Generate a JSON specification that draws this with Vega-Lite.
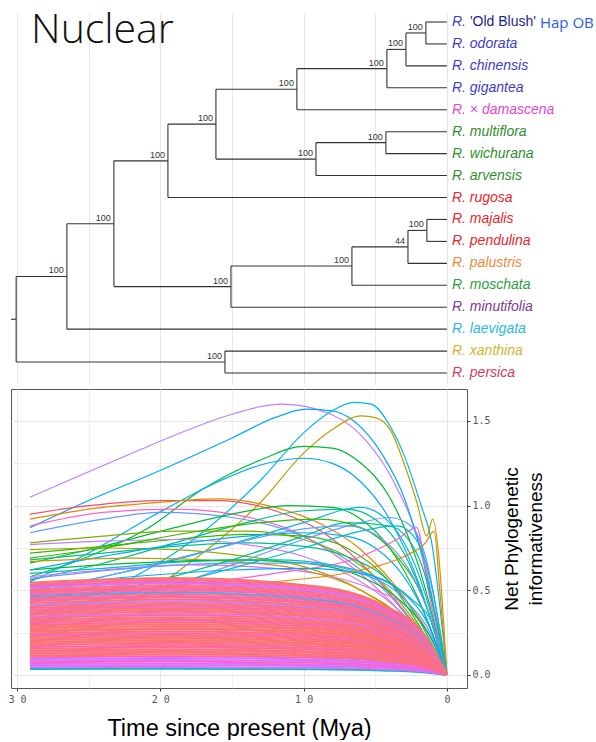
{
"$schema": "https://vega.github.io/schema/vega-lite/v6.json",
"background": "white",
"padding": {"left": 7, "top": 10, "right": 0, "bottom": 0},
"spacing": 4,
"resolve": {"scale": {"color": "independent", "x": "independent", "y": "independent"}},
"datasets": {
"segs": [
{"a":30.42,"b":30.06,"c":14.55,"d":14.55},{"a":30.06,"b":26.52,"c":12.6,"d":12.6},{"a":30.06,"b":15.49,"c":16.5,"d":16.5},
{"a":26.52,"b":23.24,"c":10.195,"d":10.195},{"a":26.52,"b":0,"c":15,"d":15},{"a":23.24,"b":19.47,"c":7.328,"d":7.328},
{"a":23.24,"b":15.07,"c":13.06,"d":13.06},{"a":19.47,"b":16.12,"c":5.656,"d":5.656},{"a":19.47,"b":0,"c":9,"d":9},
{"a":16.12,"b":10.47,"c":4.0625,"d":4.0625},{"a":16.12,"b":9.14,"c":7.25,"d":7.25},{"a":10.47,"b":4.19,"c":3.125,"d":3.125},
{"a":10.47,"b":0,"c":5,"d":5},{"a":4.19,"b":2.86,"c":2.25,"d":2.25},{"a":4.19,"b":0,"c":4,"d":4},
{"a":2.86,"b":1.47,"c":1.5,"d":1.5},{"a":2.86,"b":0,"c":3,"d":3},{"a":1.47,"b":0,"c":1,"d":1},{"a":1.47,"b":0,"c":2,"d":2},
{"a":9.14,"b":4.26,"c":6.5,"d":6.5},{"a":9.14,"b":0,"c":8,"d":8},{"a":4.26,"b":0,"c":6,"d":6},{"a":4.26,"b":0,"c":7,"d":7},
{"a":15.07,"b":6.63,"c":12.125,"d":12.125},{"a":15.07,"b":0,"c":14,"d":14},{"a":6.63,"b":2.72,"c":11.25,"d":11.25},
{"a":6.63,"b":0,"c":13,"d":13},{"a":2.72,"b":1.4,"c":10.5,"d":10.5},{"a":2.72,"b":0,"c":12,"d":12},
{"a":1.4,"b":0,"c":10,"d":10},{"a":1.4,"b":0,"c":11,"d":11},{"a":15.49,"b":0,"c":16,"d":16},{"a":15.49,"b":0,"c":17,"d":17},
{"a":30.06,"b":30.06,"c":12.6,"d":16.5},{"a":26.52,"b":26.52,"c":10.195,"d":15},{"a":23.24,"b":23.24,"c":7.328,"d":13.06},
{"a":19.47,"b":19.47,"c":5.656,"d":9},{"a":16.12,"b":16.12,"c":4.0625,"d":7.25},{"a":10.47,"b":10.47,"c":3.125,"d":5},
{"a":4.19,"b":4.19,"c":2.25,"d":4},{"a":2.86,"b":2.86,"c":1.5,"d":3},{"a":1.47,"b":1.47,"c":1,"d":2},
{"a":9.14,"b":9.14,"c":6.5,"d":8},{"a":4.26,"b":4.26,"c":6,"d":7},{"a":15.07,"b":15.07,"c":12.125,"d":14},
{"a":6.63,"b":6.63,"c":11.25,"d":13},{"a":2.72,"b":2.72,"c":10.5,"d":12},{"a":1.4,"b":1.4,"c":10,"d":11},
{"a":15.49,"b":15.49,"c":16,"d":17}
],
"nodes": [
{"t":1.47,"y":1.5,"bs":"100"},{"t":2.86,"y":2.25,"bs":"100"},{"t":4.19,"y":3.125,"bs":"100"},{"t":10.47,"y":4.0625,"bs":"100"},
{"t":16.12,"y":5.656,"bs":"100"},{"t":19.47,"y":7.328,"bs":"100"},{"t":9.14,"y":7.25,"bs":"100"},{"t":4.26,"y":6.5,"bs":"100"},
{"t":23.24,"y":10.195,"bs":"100"},{"t":26.52,"y":12.6,"bs":"100"},{"t":15.07,"y":13.06,"bs":"100"},{"t":6.63,"y":12.125,"bs":"100"},
{"t":2.72,"y":11.25,"bs":"44"},{"t":1.4,"y":10.5,"bs":"100"},{"t":15.49,"y":16.5,"bs":"100"}
],
"tips": [
{"n":1,"t":0,"lab":"R.","cl":"blue"},{"n":2,"t":0,"lab":"R. odorata","cl":"blue"},{"n":3,"t":0,"lab":"R. chinensis","cl":"blue"},
{"n":4,"t":0,"lab":"R. gigantea","cl":"blue"},{"n":5,"t":0,"lab":"R. × damascena","cl":"mag"},{"n":6,"t":0,"lab":"R. multiflora","cl":"grn"},
{"n":7,"t":0,"lab":"R. wichurana","cl":"grn"},{"n":8,"t":0,"lab":"R. arvensis","cl":"grn"},{"n":9,"t":0,"lab":"R. rugosa","cl":"red"},
{"n":10,"t":0,"lab":"R. majalis","cl":"red"},{"n":11,"t":0,"lab":"R. pendulina","cl":"red"},{"n":12,"t":0,"lab":"R. palustris","cl":"org"},
{"n":13,"t":0,"lab":"R. moschata","cl":"grn2"},{"n":14,"t":0,"lab":"R. minutifolia","cl":"pur"},{"n":15,"t":0,"lab":"R. laevigata","cl":"cyan"},
{"n":16,"t":0,"lab":"R. xanthina","cl":"gold"},{"n":17,"t":0,"lab":"R. persica","cl":"crim"}
],
"ob": [{"n":1,"t":0,"cv":"'Old Blush'","hap":"Hap OB"}],
"heading": [{"txt":"Nuclear"}],
"upper": [
{"i":1,"k":"e","t":29.1,"v":1.05},{"i":1,"k":"e","t":25,"v":1.2},{"i":1,"k":"e","t":21.7,"v":1.32},{"i":1,"k":"e","t":18,"v":1.45},{"i":1,"k":"e","t":15,"v":1.54},{"i":1,"k":"e","t":11.5,"v":1.6},{"i":1,"k":"e","t":8.1,"v":1.54},{"i":1,"k":"e","t":5.6,"v":1.38},{"i":1,"k":"e","t":3.7,"v":1.14},{"i":1,"k":"e","t":1.6,"v":0.68},{"i":1,"k":"e","t":0,"v":0},
{"i":2,"k":"g","t":29.1,"v":0.87},{"i":2,"k":"g","t":25,"v":1.03},{"i":2,"k":"g","t":20.5,"v":1.19},{"i":2,"k":"g","t":15,"v":1.4},{"i":2,"k":"g","t":12,"v":1.52},{"i":2,"k":"g","t":9.8,"v":1.57},{"i":2,"k":"g","t":8,"v":1.56},{"i":2,"k":"g","t":6.5,"v":1.5},{"i":2,"k":"g","t":4.5,"v":1.3},{"i":2,"k":"g","t":3,"v":1.05},{"i":2,"k":"g","t":1.5,"v":0.62},{"i":2,"k":"g","t":0,"v":0},
{"i":3,"k":"h","t":29.1,"v":0.3},{"i":3,"k":"h","t":25,"v":0.42},{"i":3,"k":"h","t":22,"v":0.57},{"i":3,"k":"h","t":19,"v":0.72},{"i":3,"k":"h","t":16.5,"v":0.88},{"i":3,"k":"h","t":13,"v":1.15},{"i":3,"k":"h","t":10,"v":1.43},{"i":3,"k":"h","t":8,"v":1.56},{"i":3,"k":"h","t":6.5,"v":1.61},{"i":3,"k":"h","t":5.3,"v":1.6},{"i":3,"k":"h","t":3.9,"v":1.46},{"i":3,"k":"h","t":3,"v":1.3},{"i":3,"k":"h","t":1.8,"v":1.0},{"i":3,"k":"h","t":1.1,"v":0.8},{"i":3,"k":"h","t":0,"v":0},
{"i":4,"k":"o","t":29.1,"v":0.22},{"i":4,"k":"o","t":25,"v":0.32},{"i":4,"k":"o","t":21,"v":0.48},{"i":4,"k":"o","t":18,"v":0.66},{"i":4,"k":"o","t":16,"v":0.79},{"i":4,"k":"o","t":13,"v":1.02},{"i":4,"k":"o","t":10,"v":1.31},{"i":4,"k":"o","t":8,"v":1.45},{"i":4,"k":"o","t":6,"v":1.53},{"i":4,"k":"o","t":5,"v":1.52},{"i":4,"k":"o","t":3.9,"v":1.44},{"i":4,"k":"o","t":3,"v":1.25},{"i":4,"k":"o","t":2.1,"v":1.02},{"i":4,"k":"o","t":1.4,"v":0.82},{"i":4,"k":"o","t":1.0,"v":0.92},{"i":4,"k":"o","t":0,"v":0},
{"i":5,"k":"k","t":29.1,"v":0.58},{"i":5,"k":"k","t":25,"v":0.7},{"i":5,"k":"k","t":21,"v":0.86},{"i":5,"k":"k","t":17,"v":1.1},{"i":5,"k":"k","t":13,"v":1.27},{"i":5,"k":"k","t":10,"v":1.35},{"i":5,"k":"k","t":8,"v":1.34},{"i":5,"k":"k","t":6,"v":1.25},{"i":5,"k":"k","t":4,"v":1.05},{"i":5,"k":"k","t":2,"v":0.65},{"i":5,"k":"k","t":0,"v":0},
{"i":6,"k":"g","t":29.1,"v":0.55},{"i":6,"k":"g","t":25,"v":0.72},{"i":6,"k":"g","t":20.5,"v":0.94},{"i":6,"k":"g","t":16,"v":1.14},{"i":6,"k":"g","t":13,"v":1.24},{"i":6,"k":"g","t":10,"v":1.28},{"i":6,"k":"g","t":8,"v":1.25},{"i":6,"k":"g","t":6,"v":1.14},{"i":6,"k":"g","t":4,"v":0.92},{"i":6,"k":"g","t":2,"v":0.55},{"i":6,"k":"g","t":0,"v":0},
{"i":7,"k":"r","t":29.1,"v":0.95},{"i":7,"k":"r","t":25,"v":1.0},{"i":7,"k":"r","t":20,"v":1.03},{"i":7,"k":"r","t":16,"v":1.03},{"i":7,"k":"r","t":12,"v":0.97},{"i":7,"k":"r","t":9,"v":0.86},{"i":7,"k":"r","t":6,"v":0.66},{"i":7,"k":"r","t":3,"v":0.38},{"i":7,"k":"r","t":1,"v":0.15},{"i":7,"k":"r","t":0,"v":0},
{"i":8,"k":"p","t":29.1,"v":0.92},{"i":8,"k":"p","t":25,"v":0.98},{"i":8,"k":"p","t":20,"v":1.02},{"i":8,"k":"p","t":16,"v":1.04},{"i":8,"k":"p","t":12,"v":0.99},{"i":8,"k":"p","t":9,"v":0.9},{"i":8,"k":"p","t":6,"v":0.74},{"i":8,"k":"p","t":3,"v":0.46},{"i":8,"k":"p","t":1,"v":0.2},{"i":8,"k":"p","t":0,"v":0},
{"i":9,"k":"f","t":29.1,"v":0.84},{"i":9,"k":"f","t":24,"v":0.92},{"i":9,"k":"f","t":20,"v":0.96},{"i":9,"k":"f","t":15,"v":0.93},{"i":9,"k":"f","t":11,"v":0.85},{"i":9,"k":"f","t":7,"v":0.68},{"i":9,"k":"f","t":4,"v":0.47},{"i":9,"k":"f","t":1.5,"v":0.2},{"i":9,"k":"f","t":0,"v":0},
{"i":10,"k":"c","t":29.1,"v":0.88},{"i":10,"k":"c","t":24,"v":0.96},{"i":10,"k":"c","t":19,"v":0.98},{"i":10,"k":"c","t":15,"v":0.95},{"i":10,"k":"c","t":11,"v":0.86},{"i":10,"k":"c","t":8,"v":0.72},{"i":10,"k":"c","t":5,"v":0.52},{"i":10,"k":"c","t":2,"v":0.25},{"i":10,"k":"c","t":0,"v":0},
{"i":11,"k":"k","t":29.1,"v":0.66},{"i":11,"k":"k","t":24,"v":0.76},{"i":11,"k":"k","t":19,"v":0.87},{"i":11,"k":"k","t":15,"v":0.95},{"i":11,"k":"k","t":11,"v":1.0},{"i":11,"k":"k","t":8,"v":0.99},{"i":11,"k":"k","t":6,"v":0.92},{"i":11,"k":"k","t":4,"v":0.75},{"i":11,"k":"k","t":2,"v":0.45},{"i":11,"k":"k","t":0,"v":0},
{"i":12,"k":"j","t":29.1,"v":0.56},{"i":12,"k":"j","t":24,"v":0.66},{"i":12,"k":"j","t":19,"v":0.78},{"i":12,"k":"j","t":14,"v":0.9},{"i":12,"k":"j","t":10,"v":0.97},{"i":12,"k":"j","t":7,"v":0.98},{"i":12,"k":"j","t":5,"v":0.92},{"i":12,"k":"j","t":3,"v":0.72},{"i":12,"k":"j","t":1.5,"v":0.42},{"i":12,"k":"j","t":0,"v":0},
{"i":13,"k":"h","t":29.1,"v":0.5},{"i":13,"k":"h","t":24,"v":0.58},{"i":13,"k":"h","t":19,"v":0.68},{"i":13,"k":"h","t":14,"v":0.8},{"i":13,"k":"h","t":10,"v":0.9},{"i":13,"k":"h","t":6,"v":0.99},{"i":13,"k":"h","t":4,"v":0.9},{"i":13,"k":"h","t":2,"v":0.6},{"i":13,"k":"h","t":0,"v":0},
{"i":14,"k":"m","t":29.1,"v":0.78},{"i":14,"k":"m","t":24,"v":0.82},{"i":14,"k":"m","t":19,"v":0.85},{"i":14,"k":"m","t":14,"v":0.85},{"i":14,"k":"m","t":10,"v":0.8},{"i":14,"k":"m","t":7,"v":0.7},{"i":14,"k":"m","t":4,"v":0.5},{"i":14,"k":"m","t":1.5,"v":0.22},{"i":14,"k":"m","t":0,"v":0},
{"i":15,"k":"l","t":29.1,"v":0.72},{"i":15,"k":"l","t":24,"v":0.76},{"i":15,"k":"l","t":19,"v":0.8},{"i":15,"k":"l","t":14,"v":0.83},{"i":15,"k":"l","t":10,"v":0.82},{"i":15,"k":"l","t":7,"v":0.75},{"i":15,"k":"l","t":4,"v":0.55},{"i":15,"k":"l","t":2,"v":0.3},{"i":15,"k":"l","t":0,"v":0},
{"i":16,"k":"n","t":29.1,"v":0.74},{"i":16,"k":"n","t":24,"v":0.75},{"i":16,"k":"n","t":19,"v":0.74},{"i":16,"k":"n","t":14,"v":0.7},{"i":16,"k":"n","t":10,"v":0.64},{"i":16,"k":"n","t":6,"v":0.5},{"i":16,"k":"n","t":3,"v":0.32},{"i":16,"k":"n","t":1,"v":0.12},{"i":16,"k":"n","t":0,"v":0},
{"i":17,"k":"j","t":29.1,"v":0.68},{"i":17,"k":"j","t":24,"v":0.72},{"i":17,"k":"j","t":19,"v":0.76},{"i":17,"k":"j","t":14,"v":0.78},{"i":17,"k":"j","t":10,"v":0.76},{"i":17,"k":"j","t":7,"v":0.7},{"i":17,"k":"j","t":4,"v":0.55},{"i":17,"k":"j","t":2,"v":0.33},{"i":17,"k":"j","t":0,"v":0},
{"i":18,"k":"e","t":29.1,"v":0.77},{"i":18,"k":"e","t":24,"v":0.79},{"i":18,"k":"e","t":19,"v":0.8},{"i":18,"k":"e","t":14,"v":0.77},{"i":18,"k":"e","t":10,"v":0.7},{"i":18,"k":"e","t":6,"v":0.55},{"i":18,"k":"e","t":3,"v":0.35},{"i":18,"k":"e","t":1,"v":0.13},{"i":18,"k":"e","t":0,"v":0},
{"i":19,"k":"g","t":29.1,"v":0.62},{"i":19,"k":"g","t":24,"v":0.7},{"i":19,"k":"g","t":19,"v":0.77},{"i":19,"k":"g","t":14,"v":0.82},{"i":19,"k":"g","t":10,"v":0.84},{"i":19,"k":"g","t":7,"v":0.82},{"i":19,"k":"g","t":5,"v":0.75},{"i":19,"k":"g","t":3,"v":0.58},{"i":19,"k":"g","t":1.5,"v":0.35},{"i":19,"k":"g","t":0,"v":0},
{"i":20,"k":"c","t":29.1,"v":0.45},{"i":20,"k":"c","t":20,"v":0.52},{"i":20,"k":"c","t":12,"v":0.6},{"i":20,"k":"c","t":6,"v":0.7},{"i":20,"k":"c","t":3.5,"v":0.8},{"i":20,"k":"c","t":2.1,"v":0.87},{"i":20,"k":"c","t":1.3,"v":0.5},{"i":20,"k":"c","t":0,"v":0},
{"i":21,"k":"i","t":29.1,"v":0.6},{"i":21,"k":"i","t":24,"v":0.63},{"i":21,"k":"i","t":18,"v":0.67},{"i":21,"k":"i","t":12,"v":0.68},{"i":21,"k":"i","t":8,"v":0.65},{"i":21,"k":"i","t":5,"v":0.58},{"i":21,"k":"i","t":2.5,"v":0.45},{"i":21,"k":"i","t":1,"v":0.3},{"i":21,"k":"i","t":0,"v":0},
{"i":22,"k":"f","t":29.1,"v":0.3},{"i":22,"k":"f","t":22,"v":0.45},{"i":22,"k":"f","t":15,"v":0.65},{"i":22,"k":"f","t":10,"v":0.8},{"i":22,"k":"f","t":6,"v":0.9},{"i":22,"k":"f","t":4,"v":0.93},{"i":22,"k":"f","t":2.5,"v":0.88},{"i":22,"k":"f","t":1.5,"v":0.7},{"i":22,"k":"f","t":0,"v":0},
{"i":23,"k":"d","t":29.1,"v":0.58},{"i":23,"k":"d","t":24,"v":0.62},{"i":23,"k":"d","t":18,"v":0.65},{"i":23,"k":"d","t":12,"v":0.63},{"i":23,"k":"d","t":8,"v":0.58},{"i":23,"k":"d","t":5,"v":0.5},{"i":23,"k":"d","t":2.5,"v":0.38},{"i":23,"k":"d","t":1,"v":0.2},{"i":23,"k":"d","t":0,"v":0},
{"i":24,"k":"o","t":29.1,"v":0.67},{"i":24,"k":"o","t":22,"v":0.69},{"i":24,"k":"o","t":15,"v":0.67},{"i":24,"k":"o","t":10,"v":0.62},{"i":24,"k":"o","t":6,"v":0.5},{"i":24,"k":"o","t":3,"v":0.33},{"i":24,"k":"o","t":1,"v":0.13},{"i":24,"k":"o","t":0,"v":0},
{"i":25,"k":"k","t":29.1,"v":0.62},{"i":25,"k":"k","t":22,"v":0.66},{"i":25,"k":"k","t":15,"v":0.68},{"i":25,"k":"k","t":10,"v":0.66},{"i":25,"k":"k","t":6,"v":0.58},{"i":25,"k":"k","t":3,"v":0.42},{"i":25,"k":"k","t":1,"v":0.2},{"i":25,"k":"k","t":0,"v":0},
{"i":26,"k":"f","t":29.1,"v":0.57},{"i":26,"k":"f","t":22,"v":0.63},{"i":26,"k":"f","t":15,"v":0.66},{"i":26,"k":"f","t":10,"v":0.66},{"i":26,"k":"f","t":6,"v":0.6},{"i":26,"k":"f","t":3,"v":0.45},{"i":26,"k":"f","t":1,"v":0.22},{"i":26,"k":"f","t":0,"v":0},
{"i":27,"k":"g","t":29.1,"v":0.52},{"i":27,"k":"g","t":22,"v":0.58},{"i":27,"k":"g","t":15,"v":0.62},{"i":27,"k":"g","t":10,"v":0.63},{"i":27,"k":"g","t":6,"v":0.6},{"i":27,"k":"g","t":3,"v":0.48},{"i":27,"k":"g","t":1.2,"v":0.28},{"i":27,"k":"g","t":0,"v":0},
{"i":28,"k":"p","t":29.1,"v":0.4},{"i":28,"k":"p","t":20,"v":0.48},{"i":28,"k":"p","t":12,"v":0.55},{"i":28,"k":"p","t":6,"v":0.62},{"i":28,"k":"p","t":3,"v":0.7},{"i":28,"k":"p","t":1.5,"v":0.78},{"i":28,"k":"p","t":0.9,"v":0.85},{"i":28,"k":"p","t":0.5,"v":0.5},{"i":28,"k":"p","t":0,"v":0},
{"i":29,"k":"i","t":29.1,"v":0.35},{"i":29,"k":"i","t":22,"v":0.48},{"i":29,"k":"i","t":15,"v":0.63},{"i":29,"k":"i","t":10,"v":0.75},{"i":29,"k":"i","t":6,"v":0.85},{"i":29,"k":"i","t":3.5,"v":0.88},{"i":29,"k":"i","t":2,"v":0.78},{"i":29,"k":"i","t":1,"v":0.5},{"i":29,"k":"i","t":0,"v":0},
{"i":30,"k":"j","t":29.1,"v":0.4},{"i":30,"k":"j","t":22,"v":0.52},{"i":30,"k":"j","t":15,"v":0.68},{"i":30,"k":"j","t":10,"v":0.82},{"i":30,"k":"j","t":7,"v":0.9},{"i":30,"k":"j","t":4,"v":0.88},{"i":30,"k":"j","t":2,"v":0.7},{"i":30,"k":"j","t":0,"v":0},
{"i":31,"k":"l","t":29.1,"v":0.69},{"i":31,"k":"l","t":24,"v":0.75},{"i":31,"k":"l","t":18,"v":0.84},{"i":31,"k":"l","t":13,"v":0.9},{"i":31,"k":"l","t":9,"v":0.92},{"i":31,"k":"l","t":6,"v":0.87},{"i":31,"k":"l","t":3.5,"v":0.7},{"i":31,"k":"l","t":1.5,"v":0.42},{"i":31,"k":"l","t":0,"v":0},
{"i":32,"k":"f","t":29.1,"v":0.48},{"i":32,"k":"f","t":22,"v":0.62},{"i":32,"k":"f","t":16,"v":0.75},{"i":32,"k":"f","t":11,"v":0.85},{"i":32,"k":"f","t":7,"v":0.88},{"i":32,"k":"f","t":4.5,"v":0.8},{"i":32,"k":"f","t":2.5,"v":0.6},{"i":32,"k":"f","t":1,"v":0.3},{"i":32,"k":"f","t":0,"v":0}
],
"bulk": [
{"i":101,"k":"i","t":29.1,"v":0.035},{"i":101,"k":"i","t":19,"v":0.037},{"i":101,"k":"i","t":9,"v":0.034},{"i":101,"k":"i","t":4.5,"v":0.027},{"i":101,"k":"i","t":1.5,"v":0.015},{"i":101,"k":"i","t":0,"v":0},
{"i":102,"k":"d","t":29.1,"v":0.045},{"i":102,"k":"d","t":19,"v":0.047},{"i":102,"k":"d","t":9,"v":0.043},{"i":102,"k":"d","t":4.5,"v":0.034},{"i":102,"k":"d","t":1.5,"v":0.019},{"i":102,"k":"d","t":0,"v":0},
{"i":103,"k":"e","t":29.1,"v":0.055},{"i":103,"k":"e","t":19,"v":0.058},{"i":103,"k":"e","t":9,"v":0.053},{"i":103,"k":"e","t":4.5,"v":0.042},{"i":103,"k":"e","t":1.5,"v":0.023},{"i":103,"k":"e","t":0,"v":0},
{"i":104,"k":"d","t":29.1,"v":0.065},{"i":104,"k":"d","t":19,"v":0.068},{"i":104,"k":"d","t":9,"v":0.062},{"i":104,"k":"d","t":4.5,"v":0.049},{"i":104,"k":"d","t":1.5,"v":0.027},{"i":104,"k":"d","t":0,"v":0},
{"i":105,"k":"c","t":29.1,"v":0.075},{"i":105,"k":"c","t":19,"v":0.079},{"i":105,"k":"c","t":9,"v":0.072},{"i":105,"k":"c","t":4.5,"v":0.057},{"i":105,"k":"c","t":1.5,"v":0.032},{"i":105,"k":"c","t":0,"v":0},
{"i":106,"k":"d","t":29.1,"v":0.085},{"i":106,"k":"d","t":19,"v":0.089},{"i":106,"k":"d","t":9,"v":0.082},{"i":106,"k":"d","t":4.5,"v":0.065},{"i":106,"k":"d","t":1.5,"v":0.036},{"i":106,"k":"d","t":0,"v":0},
{"i":107,"k":"e","t":29.1,"v":0.095},{"i":107,"k":"e","t":19,"v":0.1},{"i":107,"k":"e","t":9,"v":0.091},{"i":107,"k":"e","t":4.5,"v":0.072},{"i":107,"k":"e","t":1.5,"v":0.04},{"i":107,"k":"e","t":0,"v":0},
{"i":108,"k":"c","t":29.1,"v":0.105},{"i":108,"k":"c","t":19,"v":0.11},{"i":108,"k":"c","t":9,"v":0.101},{"i":108,"k":"c","t":4.5,"v":0.08},{"i":108,"k":"c","t":1.5,"v":0.044},{"i":108,"k":"c","t":0,"v":0},
{"i":109,"k":"a","t":29.1,"v":0.115},{"i":109,"k":"a","t":19,"v":0.121},{"i":109,"k":"a","t":9,"v":0.11},{"i":109,"k":"a","t":4.5,"v":0.087},{"i":109,"k":"a","t":1.5,"v":0.048},{"i":109,"k":"a","t":0,"v":0},
{"i":110,"k":"b","t":29.1,"v":0.125},{"i":110,"k":"b","t":19,"v":0.131},{"i":110,"k":"b","t":9,"v":0.12},{"i":110,"k":"b","t":4.5,"v":0.095},{"i":110,"k":"b","t":1.5,"v":0.053},{"i":110,"k":"b","t":0,"v":0},
{"i":111,"k":"a","t":29.1,"v":0.135},{"i":111,"k":"a","t":19,"v":0.142},{"i":111,"k":"a","t":9,"v":0.13},{"i":111,"k":"a","t":4.5,"v":0.103},{"i":111,"k":"a","t":1.5,"v":0.057},{"i":111,"k":"a","t":0,"v":0},
{"i":112,"k":"b","t":29.1,"v":0.145},{"i":112,"k":"b","t":19,"v":0.152},{"i":112,"k":"b","t":9,"v":0.139},{"i":112,"k":"b","t":4.5,"v":0.11},{"i":112,"k":"b","t":1.5,"v":0.061},{"i":112,"k":"b","t":0,"v":0},
{"i":113,"k":"a","t":29.1,"v":0.155},{"i":113,"k":"a","t":19,"v":0.163},{"i":113,"k":"a","t":9,"v":0.149},{"i":113,"k":"a","t":4.5,"v":0.118},{"i":113,"k":"a","t":1.5,"v":0.065},{"i":113,"k":"a","t":0,"v":0},
{"i":114,"k":"c","t":29.1,"v":0.165},{"i":114,"k":"c","t":19,"v":0.173},{"i":114,"k":"c","t":9,"v":0.158},{"i":114,"k":"c","t":4.5,"v":0.125},{"i":114,"k":"c","t":1.5,"v":0.069},{"i":114,"k":"c","t":0,"v":0},
{"i":115,"k":"a","t":29.1,"v":0.175},{"i":115,"k":"a","t":19,"v":0.184},{"i":115,"k":"a","t":9,"v":0.168},{"i":115,"k":"a","t":4.5,"v":0.133},{"i":115,"k":"a","t":1.5,"v":0.074},{"i":115,"k":"a","t":0,"v":0},
{"i":116,"k":"b","t":29.1,"v":0.185},{"i":116,"k":"b","t":19,"v":0.194},{"i":116,"k":"b","t":9,"v":0.178},{"i":116,"k":"b","t":4.5,"v":0.141},{"i":116,"k":"b","t":1.5,"v":0.078},{"i":116,"k":"b","t":0,"v":0},
{"i":117,"k":"a","t":29.1,"v":0.195},{"i":117,"k":"a","t":19,"v":0.205},{"i":117,"k":"a","t":9,"v":0.187},{"i":117,"k":"a","t":4.5,"v":0.148},{"i":117,"k":"a","t":1.5,"v":0.082},{"i":117,"k":"a","t":0,"v":0},
{"i":118,"k":"a","t":29.1,"v":0.205},{"i":118,"k":"a","t":19,"v":0.215},{"i":118,"k":"a","t":9,"v":0.197},{"i":118,"k":"a","t":4.5,"v":0.156},{"i":118,"k":"a","t":1.5,"v":0.086},{"i":118,"k":"a","t":0,"v":0},
{"i":119,"k":"b","t":29.1,"v":0.215},{"i":119,"k":"b","t":19,"v":0.226},{"i":119,"k":"b","t":9,"v":0.206},{"i":119,"k":"b","t":4.5,"v":0.163},{"i":119,"k":"b","t":1.5,"v":0.09},{"i":119,"k":"b","t":0,"v":0},
{"i":120,"k":"a","t":29.1,"v":0.225},{"i":120,"k":"a","t":19,"v":0.236},{"i":120,"k":"a","t":9,"v":0.216},{"i":120,"k":"a","t":4.5,"v":0.171},{"i":120,"k":"a","t":1.5,"v":0.095},{"i":120,"k":"a","t":0,"v":0},
{"i":121,"k":"c","t":29.1,"v":0.235},{"i":121,"k":"c","t":19,"v":0.247},{"i":121,"k":"c","t":9,"v":0.226},{"i":121,"k":"c","t":4.5,"v":0.179},{"i":121,"k":"c","t":1.5,"v":0.099},{"i":121,"k":"c","t":0,"v":0},
{"i":122,"k":"a","t":29.1,"v":0.245},{"i":122,"k":"a","t":19,"v":0.257},{"i":122,"k":"a","t":9,"v":0.235},{"i":122,"k":"a","t":4.5,"v":0.186},{"i":122,"k":"a","t":1.5,"v":0.103},{"i":122,"k":"a","t":0,"v":0},
{"i":123,"k":"b","t":29.1,"v":0.255},{"i":123,"k":"b","t":19,"v":0.268},{"i":123,"k":"b","t":9,"v":0.245},{"i":123,"k":"b","t":4.5,"v":0.194},{"i":123,"k":"b","t":1.5,"v":0.107},{"i":123,"k":"b","t":0,"v":0},
{"i":124,"k":"a","t":29.1,"v":0.265},{"i":124,"k":"a","t":19,"v":0.278},{"i":124,"k":"a","t":9,"v":0.254},{"i":124,"k":"a","t":4.5,"v":0.201},{"i":124,"k":"a","t":1.5,"v":0.111},{"i":124,"k":"a","t":0,"v":0},
{"i":125,"k":"a","t":29.1,"v":0.275},{"i":125,"k":"a","t":19,"v":0.289},{"i":125,"k":"a","t":9,"v":0.264},{"i":125,"k":"a","t":4.5,"v":0.209},{"i":125,"k":"a","t":1.5,"v":0.116},{"i":125,"k":"a","t":0,"v":0},
{"i":126,"k":"b","t":29.1,"v":0.285},{"i":126,"k":"b","t":19,"v":0.299},{"i":126,"k":"b","t":9,"v":0.274},{"i":126,"k":"b","t":4.5,"v":0.217},{"i":126,"k":"b","t":1.5,"v":0.12},{"i":126,"k":"b","t":0,"v":0},
{"i":127,"k":"a","t":29.1,"v":0.295},{"i":127,"k":"a","t":19,"v":0.31},{"i":127,"k":"a","t":9,"v":0.283},{"i":127,"k":"a","t":4.5,"v":0.224},{"i":127,"k":"a","t":1.5,"v":0.124},{"i":127,"k":"a","t":0,"v":0},
{"i":128,"k":"c","t":29.1,"v":0.305},{"i":128,"k":"c","t":19,"v":0.32},{"i":128,"k":"c","t":9,"v":0.293},{"i":128,"k":"c","t":4.5,"v":0.232},{"i":128,"k":"c","t":1.5,"v":0.128},{"i":128,"k":"c","t":0,"v":0},
{"i":129,"k":"a","t":29.1,"v":0.315},{"i":129,"k":"a","t":19,"v":0.331},{"i":129,"k":"a","t":9,"v":0.302},{"i":129,"k":"a","t":4.5,"v":0.239},{"i":129,"k":"a","t":1.5,"v":0.132},{"i":129,"k":"a","t":0,"v":0},
{"i":130,"k":"b","t":29.1,"v":0.325},{"i":130,"k":"b","t":19,"v":0.341},{"i":130,"k":"b","t":9,"v":0.312},{"i":130,"k":"b","t":4.5,"v":0.247},{"i":130,"k":"b","t":1.5,"v":0.137},{"i":130,"k":"b","t":0,"v":0},
{"i":131,"k":"a","t":29.1,"v":0.335},{"i":131,"k":"a","t":19,"v":0.352},{"i":131,"k":"a","t":9,"v":0.322},{"i":131,"k":"a","t":4.5,"v":0.255},{"i":131,"k":"a","t":1.5,"v":0.141},{"i":131,"k":"a","t":0,"v":0},
{"i":132,"k":"d","t":29.1,"v":0.345},{"i":132,"k":"d","t":19,"v":0.362},{"i":132,"k":"d","t":9,"v":0.331},{"i":132,"k":"d","t":4.5,"v":0.262},{"i":132,"k":"d","t":1.5,"v":0.145},{"i":132,"k":"d","t":0,"v":0},
{"i":133,"k":"a","t":29.1,"v":0.355},{"i":133,"k":"a","t":19,"v":0.373},{"i":133,"k":"a","t":9,"v":0.341},{"i":133,"k":"a","t":4.5,"v":0.27},{"i":133,"k":"a","t":1.5,"v":0.149},{"i":133,"k":"a","t":0,"v":0},
{"i":134,"k":"b","t":29.1,"v":0.365},{"i":134,"k":"b","t":19,"v":0.383},{"i":134,"k":"b","t":9,"v":0.35},{"i":134,"k":"b","t":4.5,"v":0.277},{"i":134,"k":"b","t":1.5,"v":0.153},{"i":134,"k":"b","t":0,"v":0},
{"i":135,"k":"a","t":29.1,"v":0.375},{"i":135,"k":"a","t":19,"v":0.394},{"i":135,"k":"a","t":9,"v":0.36},{"i":135,"k":"a","t":4.5,"v":0.285},{"i":135,"k":"a","t":1.5,"v":0.158},{"i":135,"k":"a","t":0,"v":0},
{"i":136,"k":"c","t":29.1,"v":0.385},{"i":136,"k":"c","t":19,"v":0.404},{"i":136,"k":"c","t":9,"v":0.37},{"i":136,"k":"c","t":4.5,"v":0.293},{"i":136,"k":"c","t":1.5,"v":0.162},{"i":136,"k":"c","t":0,"v":0},
{"i":137,"k":"a","t":29.1,"v":0.395},{"i":137,"k":"a","t":19,"v":0.415},{"i":137,"k":"a","t":9,"v":0.379},{"i":137,"k":"a","t":4.5,"v":0.3},{"i":137,"k":"a","t":1.5,"v":0.166},{"i":137,"k":"a","t":0,"v":0},
{"i":138,"k":"b","t":29.1,"v":0.405},{"i":138,"k":"b","t":19,"v":0.425},{"i":138,"k":"b","t":9,"v":0.389},{"i":138,"k":"b","t":4.5,"v":0.308},{"i":138,"k":"b","t":1.5,"v":0.17},{"i":138,"k":"b","t":0,"v":0},
{"i":139,"k":"e","t":29.1,"v":0.415},{"i":139,"k":"e","t":19,"v":0.436},{"i":139,"k":"e","t":9,"v":0.398},{"i":139,"k":"e","t":4.5,"v":0.315},{"i":139,"k":"e","t":1.5,"v":0.174},{"i":139,"k":"e","t":0,"v":0},
{"i":140,"k":"a","t":29.1,"v":0.425},{"i":140,"k":"a","t":19,"v":0.446},{"i":140,"k":"a","t":9,"v":0.408},{"i":140,"k":"a","t":4.5,"v":0.323},{"i":140,"k":"a","t":1.5,"v":0.179},{"i":140,"k":"a","t":0,"v":0},
{"i":141,"k":"b","t":29.1,"v":0.435},{"i":141,"k":"b","t":19,"v":0.457},{"i":141,"k":"b","t":9,"v":0.418},{"i":141,"k":"b","t":4.5,"v":0.331},{"i":141,"k":"b","t":1.5,"v":0.183},{"i":141,"k":"b","t":0,"v":0},
{"i":142,"k":"c","t":29.1,"v":0.445},{"i":142,"k":"c","t":19,"v":0.467},{"i":142,"k":"c","t":9,"v":0.427},{"i":142,"k":"c","t":4.5,"v":0.338},{"i":142,"k":"c","t":1.5,"v":0.187},{"i":142,"k":"c","t":0,"v":0},
{"i":143,"k":"a","t":29.1,"v":0.455},{"i":143,"k":"a","t":19,"v":0.478},{"i":143,"k":"a","t":9,"v":0.437},{"i":143,"k":"a","t":4.5,"v":0.346},{"i":143,"k":"a","t":1.5,"v":0.191},{"i":143,"k":"a","t":0,"v":0},
{"i":144,"k":"f","t":29.1,"v":0.465},{"i":144,"k":"f","t":19,"v":0.488},{"i":144,"k":"f","t":9,"v":0.446},{"i":144,"k":"f","t":4.5,"v":0.353},{"i":144,"k":"f","t":1.5,"v":0.195},{"i":144,"k":"f","t":0,"v":0},
{"i":145,"k":"b","t":29.1,"v":0.475},{"i":145,"k":"b","t":19,"v":0.499},{"i":145,"k":"b","t":9,"v":0.456},{"i":145,"k":"b","t":4.5,"v":0.361},{"i":145,"k":"b","t":1.5,"v":0.2},{"i":145,"k":"b","t":0,"v":0},
{"i":146,"k":"c","t":29.1,"v":0.485},{"i":146,"k":"c","t":19,"v":0.509},{"i":146,"k":"c","t":9,"v":0.466},{"i":146,"k":"c","t":4.5,"v":0.369},{"i":146,"k":"c","t":1.5,"v":0.204},{"i":146,"k":"c","t":0,"v":0},
{"i":147,"k":"a","t":29.1,"v":0.495},{"i":147,"k":"a","t":19,"v":0.52},{"i":147,"k":"a","t":9,"v":0.475},{"i":147,"k":"a","t":4.5,"v":0.376},{"i":147,"k":"a","t":1.5,"v":0.208},{"i":147,"k":"a","t":0,"v":0},
{"i":148,"k":"b","t":29.1,"v":0.505},{"i":148,"k":"b","t":19,"v":0.53},{"i":148,"k":"b","t":9,"v":0.485},{"i":148,"k":"b","t":4.5,"v":0.384},{"i":148,"k":"b","t":1.5,"v":0.212},{"i":148,"k":"b","t":0,"v":0},
{"i":149,"k":"e","t":29.1,"v":0.515},{"i":149,"k":"e","t":19,"v":0.541},{"i":149,"k":"e","t":9,"v":0.494},{"i":149,"k":"e","t":4.5,"v":0.391},{"i":149,"k":"e","t":1.5,"v":0.216},{"i":149,"k":"e","t":0,"v":0},
{"i":150,"k":"c","t":29.1,"v":0.525},{"i":150,"k":"c","t":19,"v":0.551},{"i":150,"k":"c","t":9,"v":0.504},{"i":150,"k":"c","t":4.5,"v":0.399},{"i":150,"k":"c","t":1.5,"v":0.221},{"i":150,"k":"c","t":0,"v":0},
{"i":151,"k":"b","t":29.1,"v":0.535},{"i":151,"k":"b","t":19,"v":0.562},{"i":151,"k":"b","t":9,"v":0.514},{"i":151,"k":"b","t":4.5,"v":0.407},{"i":151,"k":"b","t":1.5,"v":0.225},{"i":151,"k":"b","t":0,"v":0},
{"i":152,"k":"a","t":29.1,"v":0.545},{"i":152,"k":"a","t":19,"v":0.572},{"i":152,"k":"a","t":9,"v":0.523},{"i":152,"k":"a","t":4.5,"v":0.414},{"i":152,"k":"a","t":1.5,"v":0.229},{"i":152,"k":"a","t":0,"v":0}
]
},
"vconcat": [
{
"width": 456, "height": 371,
"view": {"stroke": null},
"layer": [
{"data": {"name": "segs"}, "mark": {"type": "rule", "color": "#333333", "strokeWidth": 1.1},
 "encoding": {
  "x": {"field": "a", "type": "quantitative", "scale": {"domain": [30.42, -1.4], "nice": false, "zero": false}, "axis": {"values": [30,25,20,15,10,5,0], "grid": true, "gridColor": "#e6e6e6", "labels": false, "ticks": false, "domain": false, "title": null}},
  "x2": {"field": "b"},
  "y": {"field": "c", "type": "quantitative", "scale": {"domain": [17.5, 0.59], "nice": false, "zero": false}, "axis": null},
  "y2": {"field": "d"}}},
{"data": {"name": "heading"}, "mark": {"type": "text", "align": "left", "baseline": "alphabetic", "fontSize": 41, "font": "Open Sans", "fontWeight": 300, "color": "#111111"},
 "encoding": {
  "x": {"datum": 29.02, "type": "quantitative", "scale": {"domain": [30.42, -1.4], "nice": false, "zero": false}, "axis": {"values": [30,25,20,15,10,5,0], "grid": true, "gridColor": "#e6e6e6", "labels": false, "ticks": false, "domain": false, "title": null}},
  "y": {"datum": 1.96, "type": "quantitative", "scale": {"domain": [17.5, 0.59], "nice": false, "zero": false}, "axis": null},
  "text": {"field": "txt"}}},
{"data": {"name": "nodes"}, "mark": {"type": "text", "align": "right", "baseline": "alphabetic", "dx": -3, "dy": -3, "fontSize": 9, "font": "Liberation Sans", "color": "#333333"},
 "encoding": {
  "x": {"field": "t", "type": "quantitative", "scale": {"domain": [30.42, -1.4], "nice": false, "zero": false}, "axis": {"values": [30,25,20,15,10,5,0], "grid": true, "gridColor": "#e6e6e6", "labels": false, "ticks": false, "domain": false, "title": null}},
  "y": {"field": "y", "type": "quantitative", "scale": {"domain": [17.5, 0.59], "nice": false, "zero": false}, "axis": null},
  "text": {"field": "bs"}}},
{"data": {"name": "tips"}, "mark": {"type": "text", "align": "left", "baseline": "middle", "dx": 5, "fontSize": 14, "font": "Liberation Sans", "fontStyle": "italic"},
 "encoding": {
  "x": {"field": "t", "type": "quantitative", "scale": {"domain": [30.42, -1.4], "nice": false, "zero": false}, "axis": {"values": [30,25,20,15,10,5,0], "grid": true, "gridColor": "#e6e6e6", "labels": false, "ticks": false, "domain": false, "title": null}},
  "y": {"field": "n", "type": "quantitative", "scale": {"domain": [17.5, 0.59], "nice": false, "zero": false}, "axis": null},
  "text": {"field": "lab"},
  "color": {"field": "cl", "type": "nominal", "legend": null, "scale": {"domain": ["blue","mag","grn","red","org","grn2","pur","cyan","gold","crim"], "range": ["#3c3ccc","#e445d8","#2f8f2f","#e8262c","#f2873a","#2e9e3e","#7e3a98","#2bb8e8","#d6b234","#d63862"]}}}},
{"data": {"name": "ob"}, "mark": {"type": "text", "align": "left", "baseline": "middle", "dx": 23, "fontSize": 14, "font": "Liberation Sans", "color": "#1e1e8c"},
 "encoding": {
  "x": {"field": "t", "type": "quantitative", "scale": {"domain": [30.42, -1.4], "nice": false, "zero": false}, "axis": {"values": [30,25,20,15,10,5,0], "grid": true, "gridColor": "#e6e6e6", "labels": false, "ticks": false, "domain": false, "title": null}},
  "y": {"field": "n", "type": "quantitative", "scale": {"domain": [17.5, 0.59], "nice": false, "zero": false}, "axis": null},
  "text": {"field": "cv"}}},
{"data": {"name": "ob"}, "mark": {"type": "text", "align": "left", "baseline": "middle", "dx": 93, "dy": 1, "fontSize": 15, "font": "Open Sans", "color": "#2a5bf5"},
 "encoding": {
  "x": {"field": "t", "type": "quantitative", "scale": {"domain": [30.42, -1.4], "nice": false, "zero": false}, "axis": {"values": [30,25,20,15,10,5,0], "grid": true, "gridColor": "#e6e6e6", "labels": false, "ticks": false, "domain": false, "title": null}},
  "y": {"field": "n", "type": "quantitative", "scale": {"domain": [17.5, 0.59], "nice": false, "zero": false}, "axis": null},
  "text": {"field": "hap"}}}
]
},
{
"width": 456, "height": 299,
"view": {"stroke": "#555555", "strokeWidth": 1},
"encoding": {
 "x": {"field": "t", "type": "quantitative", "scale": {"domain": [30.42, -1.4], "nice": false, "zero": false},
  "axis": {"orient": "bottom", "values": [30,25,20,15,10,5,0],
   "labelExpr": "datum.value % 10 === 0 ? (datum.value === 0 ? '0' : slice(datum.label, 0, 1) + ' ' + slice(datum.label, 1, 2)) : ''",
   "labelFont": "DejaVu Sans Mono", "labelFontSize": 10, "labelColor": "#555555", "labelPadding": 3,
   "tickSize": 3, "tickColor": {"condition": {"test": "datum.value % 10 === 0", "value": "#333333"}, "value": "transparent"},
   "grid": true, "gridColor": "#e6e6e6", "gridWidth": {"condition": {"test": "datum.value % 10 === 0", "value": 1}, "value": 0.6},
   "domain": false, "title": "Time since present (Mya)", "titleFont": "Liberation Sans", "titleFontSize": 23.5, "titleFontWeight": "normal", "titleColor": "#000000", "titlePadding": 12}},
 "y": {"field": "v", "type": "quantitative", "scale": {"domain": [-0.077, 1.689], "nice": false, "zero": false},
  "axis": {"orient": "right", "values": [0,0.25,0.5,0.75,1,1.25,1.5],
   "labelExpr": "(datum.value * 2) % 1 === 0 ? format(datum.value, '.1f') : ''",
   "labelFont": "DejaVu Sans Mono", "labelFontSize": 10, "labelColor": "#555555", "labelPadding": 2,
   "tickSize": 3, "tickColor": {"condition": {"test": "(datum.value * 2) % 1 === 0", "value": "#333333"}, "value": "transparent"},
   "grid": true, "gridColor": "#e6e6e6", "gridWidth": {"condition": {"test": "(datum.value * 2) % 1 === 0", "value": 1}, "value": 0.6},
   "domain": false, "title": ["Net Phylogenetic", "informativeness"], "titleAngle": 270, "titleFont": "Liberation Sans", "titleFontSize": 19, "titleFontWeight": "normal", "titleColor": "#000000", "titleLineHeight": 24, "titlePadding": 7}},
 "color": {"field": "k", "type": "nominal", "legend": null,
  "scale": {"domain": ["a","b","c","d","e","f","g","h","i","j","k","l","m","n","o","p","r"],
   "range": ["#F8766D","#FF6C91","#FF61C3","#E76BF3","#C77CFF","#619CFF","#00A9FF","#00B8E7","#00BFC4","#00C08B","#00BA38","#39B600","#7CAE00","#A3A500","#C49A00","#E58700","#F0506A"]}},
 "detail": {"field": "i", "type": "nominal"}
},
"layer": [
 {"data": {"name": "upper"}, "mark": {"type": "line", "strokeWidth": 1.2, "interpolate": "monotone", "clip": true}},
 {"data": {"name": "bulk"}, "mark": {"type": "line", "strokeWidth": 2, "interpolate": "monotone", "clip": true}}
]
}
]
}
